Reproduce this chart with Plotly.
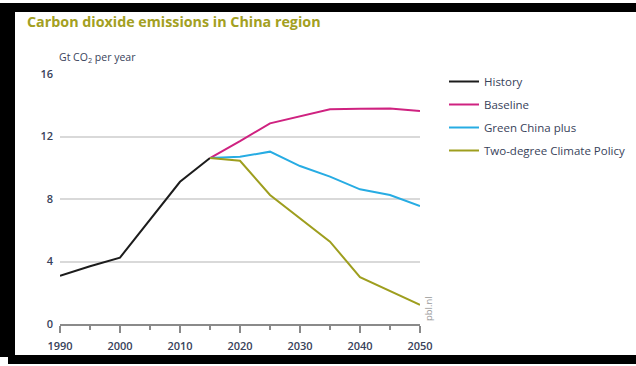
import plotly.graph_objects as go

W, H = 636, 366

# Emission pathways, Gt CO2 per year
hist_years = [1990, 1995, 2000, 2005, 2010, 2015]
hist_vals = [3.08, 3.7, 4.25, 6.65, 9.1, 10.62]

scen_years = [2015, 2020, 2025, 2030, 2035, 2040, 2045, 2050]
baseline_vals = [10.62, 11.7, 12.84, 13.27, 13.74, 13.78, 13.8, 13.63]
green_vals = [10.62, 10.7, 11.03, 10.11, 9.43, 8.62, 8.26, 7.55]
two_degree_vals = [10.62, 10.45, 8.26, 6.78, 5.27, 3.0, 2.12, 1.22]

x_ticks = [1990, 2000, 2010, 2020, 2030, 2040, 2050]
y_ticks = [0, 4, 8, 12, 16]

series = [
    ("History", hist_years, hist_vals, "#1c1c1c"),
    ("Baseline", scen_years, baseline_vals, "#cf2280"),
    ("Green China plus", scen_years, green_vals, "#27ace3"),
    ("Two-degree Climate Policy", scen_years, two_degree_vals, "#9e9e1e"),
]

TEXT = "#38425a"
FONT = "Open Sans"

fig = go.Figure()
for i, (name, xs, ys, col) in enumerate(series):
    fig.add_trace(go.Scatter(
        x=xs, y=ys, name=name, mode="lines",
        line=dict(color=col, width=2),
        legendgroup=f"g{i}",
        hoverinfo="skip",
    ))


def px_x(p):
    return p / W


def px_y(p):
    return 1 - p / H


fig.update_layout(
    width=W, height=H,
    margin=dict(l=0, r=0, t=0, b=0),
    paper_bgcolor="white", plot_bgcolor="white",
    font=dict(family=FONT, color=TEXT, size=11),
    showlegend=True,
    legend=dict(
        x=px_x(444), y=px_y(67), xanchor="left", yanchor="top",
        bgcolor="rgba(0,0,0,0)",
        font=dict(family=FONT, size=11.5, color=TEXT),
        itemwidth=30, tracegroupgap=4,
    ),
    xaxis=dict(
        domain=[px_x(60), px_x(420)],
        range=[1990, 2050],
        tickvals=x_ticks,
        ticks="outside", ticklen=7, tickwidth=1.5, tickcolor="#8a8a8a",
        minor=dict(dtick=5, tick0=1990, ticks="outside", ticklen=4,
                   tickwidth=1.5, tickcolor="#8a8a8a", showgrid=False),
        showline=True, linecolor="#8a8a8a", linewidth=1.5,
        showgrid=False, zeroline=False,
        ticklabelstandoff=4,
        tickfont=dict(family=FONT, size=11, color=TEXT, weight=600),
        automargin=False, fixedrange=True,
    ),
    yaxis=dict(
        domain=[px_y(324), px_y(74)],
        range=[0, 16],
        tickvals=y_ticks,
        showline=False, ticks="",
        showgrid=True, gridcolor="#d9d9d9", gridwidth=2,
        zeroline=False,
        ticklabelstandoff=6,
        tickfont=dict(family=FONT, size=11, color=TEXT, weight=600),
        automargin=False, fixedrange=True,
    ),
)

# Title, unit label and source mark
fig.add_annotation(
    text="Carbon dioxide emissions in China region",
    xref="paper", yref="paper", x=px_x(25), y=px_y(22),
    xanchor="left", yanchor="middle", showarrow=False,
    font=dict(family=FONT, size=14.3, color="#a3a022", weight=700),
)
fig.add_annotation(
    text="Gt CO<sub>2</sub> per year",
    xref="paper", yref="paper", x=px_x(57), y=px_y(58),
    xanchor="left", yanchor="middle", showarrow=False,
    font=dict(family=FONT, size=10.5, color=TEXT),
)
fig.add_annotation(
    text="pbl.nl",
    xref="paper", yref="paper", x=px_x(428), y=px_y(309),
    xanchor="center", yanchor="middle", showarrow=False, textangle=-90,
    font=dict(family=FONT, size=9.5, color="#9a9a9a"),
)

# Black frame around the figure
frame = [
    (0, 3, W, 12),
    (0, 3, 15, 357),
    (8, 355, W, 364),
]
for x0, y0, x1, y1 in frame:
    fig.add_shape(
        type="rect", xref="paper", yref="paper",
        x0=px_x(x0), x1=px_x(x1), y0=px_y(y1), y1=px_y(y0),
        fillcolor="black", line=dict(width=0), layer="above",
    )

fig.write_html("out.html")
